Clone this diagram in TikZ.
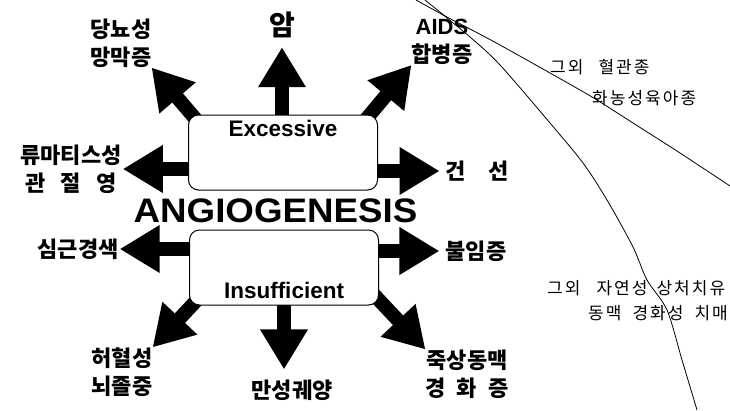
\documentclass[tikz,border=0pt]{standalone}
\usepackage{fontspec}
\setmainfont{Liberation Sans}
\newfontfamily\kr{Noto Sans CJK KR}
\usetikzlibrary{positioning,arrows.meta,backgrounds}

\begin{document}
\begin{tikzpicture}[x=1pt,y=-1pt,
        box/.style={draw, line width=1pt, rounded corners=10pt, fill=white,
                    minimum width=189pt, minimum height=75pt},
        boxtext/.style={font=\fontsize{22.5}{22.5}\selectfont\bfseries, inner sep=0pt},
        disease/.style={font=\kr\bfseries\fontsize{22}{28}\selectfont, align=center, inner sep=0pt},
        other/.style={font=\kr\fontsize{17}{17}\selectfont\addfontfeature{LetterSpace=12}, anchor=west, inner sep=0pt},
        fat/.style={line width=14pt, -{Triangle[length=40pt,width=45pt]}},
        vessel/.style={line width=0.8pt}]
        \useasboundingbox (0,0) rectangle (730,410);

        \node[box] (exc) at (283,152.5) {};
        \node[box] (ins) at (284,267.5) {};
        \node[boxtext, below=5pt of exc.north] (exclab) {Excessive};
        \node[boxtext, above=7pt of ins.south] (inslab) {Insufficient};
        \node[font=\fontsize{34}{34}\selectfont\bfseries, xscale=1.08, inner sep=0pt] (ang) at (275.5,211) {ANGIOGENESIS};

        \node[disease] (dm) at (121,43) {당뇨성\\망막증};
        \node[disease, font=\kr\bfseries\fontsize{28}{28}\selectfont] (cancer) at (282,25) {암};
        \node[disease] (aids) at (442,42) {{\rmfamily AIDS}\\합병증};
        \node[disease] (ra) at (71,169) {류마티스성\\관\hspace{0.7em}절\hspace{0.7em}영};
        \node[disease] (ps) at (477,171) {건\hspace{1em}선};
        \node[disease] (mi) at (78,249) {심근경색};
        \node[disease] (inf) at (476,251) {불임증};
        \node[disease] (stroke) at (122,372) {허혈성\\뇌졸중};
        \node[disease] (ulcer) at (292,390) {만성궤양};
        \node[disease] (athero) at (467,374) {죽상동맥\\경\hspace{0.5em}화\hspace{0.5em}증};

        \node[other] (hem) at (550,67) {그외\hspace{15pt}혈관종};
        \node[other] (pyo) at (592,98) {화농성육아종};
        \node[other] (wound) at (547,288) {그외\hspace{16pt}자연성\hspace{9pt}상처치유};
        \node[other] (dem) at (588,313) {동맥\hspace{11pt}경화성\hspace{11pt}치매};

        \begin{scope}[on background layer]
        \draw[fat] ([shift={(14,12)}]exc.north west) -- (dm.south east);
        \draw[fat, shorten >=9pt] (cancer.south |- exc.center) -- (cancer.south);
        \draw[fat] ([shift={(-18,12)}]exc.north east) -- (aids.south west);
        \draw[fat, shorten >=1pt] (exc.center |- ra.east) -- (ra.east);
        \draw[fat, shorten >=6pt] (exc.center |- ps.west) -- (ps.west);
        \draw[fat, shorten >=1pt] (ins.center |- mi.east) -- (mi.east);
        \draw[fat, shorten >=6pt] (ins.center |- inf.west) -- (inf.west);
        \draw[fat] ([shift={(14,-12)}]ins.south west) -- (stroke.north east);
        \draw[fat, shorten >=10pt] (ins.center) -- (ins.center |- ulcer.north);
        \draw[fat] ([shift={(-8,-14)}]ins.south east) -- (athero.north west);
        \end{scope}

        \draw[vessel] plot[smooth] coordinates {(416,0) (445,16) (470,29) (500,45) (550,73) (592,97) (633,123) (680,153) (730,186)};
        \draw[vessel] plot[smooth] coordinates {(425,0) (470,37) (500,65) (550,123) (583,163) (607,200) (633,247) (647,280) (667,310) (682,360) (697,410)};
    \end{tikzpicture}
\end{document}
